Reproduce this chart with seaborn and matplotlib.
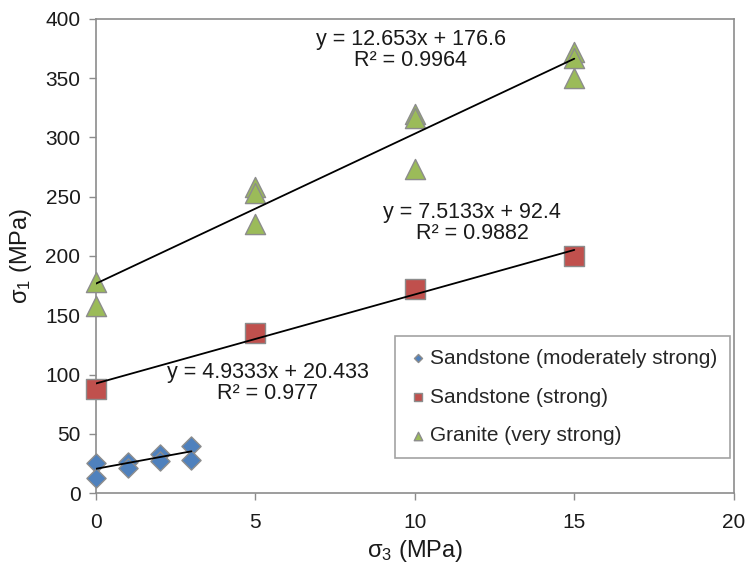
import numpy as np
import pandas as pd
import matplotlib
matplotlib.use("Agg")
import matplotlib.pyplot as plt
import seaborn as sns

# ---- data ----
ss_mod_x = [0, 0, 1, 1, 2, 2, 3, 3]
ss_mod_y = [25, 13, 26, 21, 33, 27, 40, 28]

ss_str_x = [0, 5, 10, 15]
ss_str_y = [88, 135, 172, 200]

gr_x = [0, 0, 5, 5, 5, 10, 10, 10, 15, 15, 15]
gr_y = [178, 158, 258, 253, 227, 320, 316, 273, 372, 367, 350]

labels = ["Sandstone (moderately strong)", "Sandstone (strong)", "Granite (very strong)"]
fit_slopes = [4.9333, 7.5133, 12.653]
fit_intercepts = [20.433, 92.4, 176.6]
fit_r2 = ["0.977", "0.9882", "0.9964"]
fit_xmax = [3, 15, 15]

x_ticks = [0, 5, 10, 15, 20]
y_ticks = [0, 50, 100, 150, 200, 250, 300, 350, 400]

# ---- styling ----
sns.set_theme(style="white")
plt.rcParams["font.family"] = ["Liberation Sans", "DejaVu Sans"]
plt.rcParams["mathtext.default"] = "regular"

colors = ["#4F81BD", "#C0504D", "#9BBB59"]
markers = ["D", "s", "^"]
sizes = [95, 200, 210]
edge = "#8C8C8C"

fig = plt.figure(figsize=(7.48, 5.72), dpi=100)
ax = fig.add_axes([0.128, 0.138, 0.853, 0.829])

series = [(ss_mod_x, ss_mod_y), (ss_str_x, ss_str_y), (gr_x, gr_y)]
for (xs, ys), lab, c, m, s in zip(series, labels, colors, markers, sizes):
    df = pd.DataFrame({"x": xs, "y": ys})
    sns.scatterplot(data=df, x="x", y="y", ax=ax, marker=m, color=c, s=s,
                    edgecolor=edge, linewidth=1.0, label=lab, zorder=3,
                    clip_on=False)

for slope, icpt, xmax in zip(fit_slopes, fit_intercepts, fit_xmax):
    lx = np.array([0.0, xmax])
    sns.lineplot(x=lx, y=icpt + slope * lx, ax=ax, color="black", lw=1.3,
                 zorder=4, legend=False)

# trendline equations
ann_pos = [(5.4, 93), (11.8, 228), (9.87, 374)]
for (tx, ty), slope, icpt, r2 in zip(ann_pos, fit_slopes, fit_intercepts, fit_r2):
    ax.text(tx, ty, f"y = {slope:g}x + {icpt:g}\nR² = {r2}", ha="center", va="center",
            fontsize=15.5, color="#1a1a1a", linespacing=1.0, zorder=5)

ax.set_xlim(0, 20)
ax.set_ylim(0, 400)
ax.set_xticks(x_ticks)
ax.set_yticks(y_ticks)
ax.tick_params(axis="both", labelsize=15, colors="#1a1a1a", length=5, width=1,
               color="#8C8C8C", direction="out", bottom=True, left=True)
ax.tick_params(axis="x", pad=9)
ax.tick_params(axis="y", pad=6)
for sp in ax.spines.values():
    sp.set_color("#8C8C8C")
    sp.set_linewidth(1.2)

ax.set_xlabel(r"$σ_3$ (MPa)", fontsize=17, color="#1a1a1a", labelpad=5)
ax.set_ylabel(r"$σ_1$ (MPa)", fontsize=17, color="#1a1a1a", labelpad=8)

leg = ax.legend(loc="lower right", bbox_to_anchor=(0.994, 0.074), fontsize=15,
                frameon=True, fancybox=False, markerscale=0.42, handletextpad=0.1,
                handlelength=1.0, labelspacing=0.95, borderpad=0.6, borderaxespad=0)
leg.get_frame().set_edgecolor("#8C8C8C")
leg.get_frame().set_linewidth(1.2)

fig.savefig("out.png", dpi=100)
